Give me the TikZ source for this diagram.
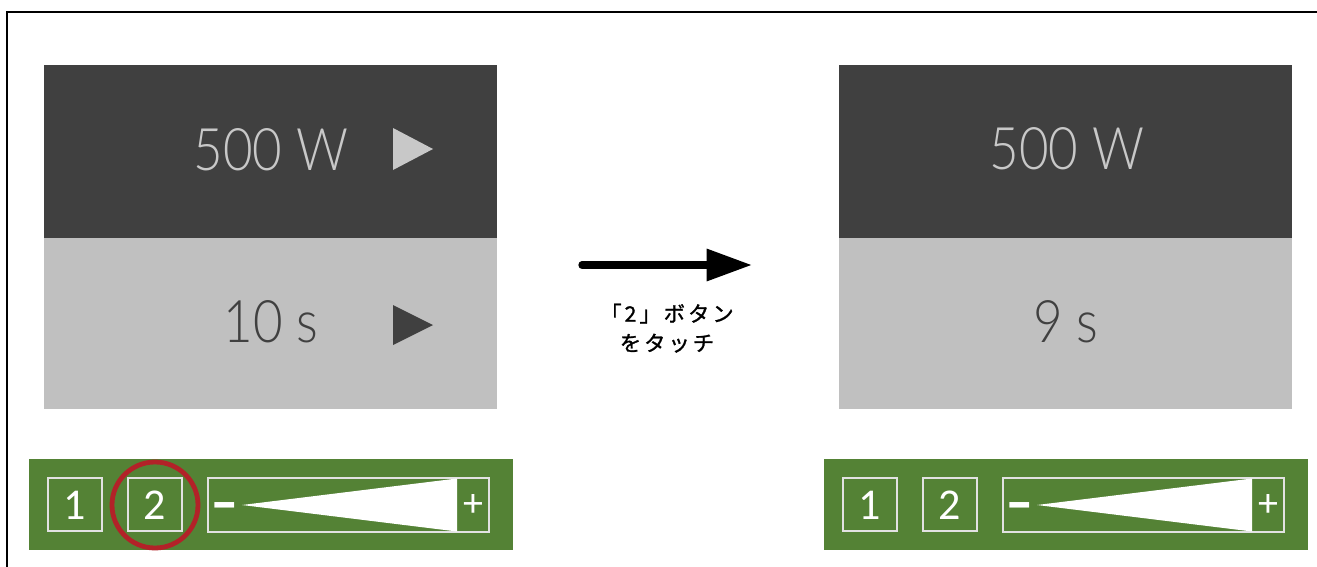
\documentclass[tikz,border=0pt]{standalone}
\usepackage{fontspec}
\usetikzlibrary{arrows.meta,positioning}
\newfontfamily\thinfont{Lato Light}[FakeStretch=0.87]
\newfontfamily\keyfont{Carlito}
\newfontfamily\jpfont{Noto Sans CJK JP}[LetterSpace=14,FakeBold=1.2]
\definecolor{darkpanel}{HTML}{404040}
\definecolor{lightpanel}{HTML}{C0C0C0}
\definecolor{lighttext}{HTML}{C8C8C8}
\definecolor{bargreen}{HTML}{548235}
\definecolor{keyline}{HTML}{E2E2E2}
\definecolor{ringred}{RGB}{178,34,40}

\begin{document}
\begin{tikzpicture}[x=0.75pt,y=-0.75pt,% one unit = one pixel of the screen shot
      every node/.style={inner sep=0pt,outer sep=0pt},
      bigval/.style={font=\thinfont\fontsize{44}{44}\selectfont,anchor=base},
      keybox/.style={draw=keyline,line width=0.8pt},
      keytext/.style={text=white,font=\keyfont\fontsize{33}{33}\selectfont},
      signtext/.style={text=white,font=\keyfont\fontsize{30}{30}\selectfont}
    ]
    \useasboundingbox (0,0) rectangle (1317,567);
    \draw[line width=1.5pt] (7,567) -- (7,12) -- (1317,12);

    % screen before the touch
    \fill[darkpanel] (44,65) rectangle (497,238);
    \fill[lightpanel] (44,238) rectangle (497,409);
    \node[bigval,text=lighttext](powL) at (271,170) {500 W};
    \node[bigval,text=darkpanel](timeL) at (271,342) {10 s};
    \fill[lighttext] (393,128) -- (393,170) -- (433,149) -- cycle;
    \fill[darkpanel] (393,305) -- (393,345) -- (433,325) -- cycle;

    % screen after the touch
    \fill[darkpanel] (839,65) rectangle (1292,238);
    \fill[lightpanel] (839,238) rectangle (1292,409);
    \node[bigval,text=lighttext](powR) at (1067,169) {500 W};
    \node[bigval,text=darkpanel](timeR) at (1066,342) {9 s};

    % key bars
    \foreach \dx/\s in {0/L,795/R}{
      \fill[bargreen] (29+\dx,459) rectangle (513+\dx,550);
      \draw[keybox] (48+\dx,478) rectangle (102+\dx,531);
      \draw[keybox] (128+\dx,478) rectangle (182+\dx,531);
      \node[keytext](key1\s) at (75+\dx,505) {1};
      \node[keytext](key2\s) at (155+\dx,505) {2};
      \draw[keybox] (208+\dx,478) rectangle (489+\dx,532);
      \fill[white] (242+\dx,505) -- (457+\dx,478.5) -- (457+\dx,531.5) -- cycle;
      \node[signtext,anchor=base,xscale=1.5,font=\keyfont\bfseries\fontsize{40}{40}\selectfont](minus\s) at (225+\dx,520) {-};
      \node[signtext](plus\s) at (473+\dx,505) {+};
    }
    \draw[ringred,line width=3.6pt] (key2L) circle (43);

    % transition
    \coordinate (arrS) at (582,265);
    \coordinate (arrE) at (752,265);
    \coordinate (arrM) at (667,265);
    \draw[line width=5.5pt,line cap=round,-{Triangle[length=34pt,width=23pt]}] (arrS) -- (arrE);
    \node[font=\jpfont\fontsize{16}{22}\selectfont,align=center](touch)[below=29pt of arrM]{「2」ボタン\\をタッチ};
  \end{tikzpicture}
\end{document}
